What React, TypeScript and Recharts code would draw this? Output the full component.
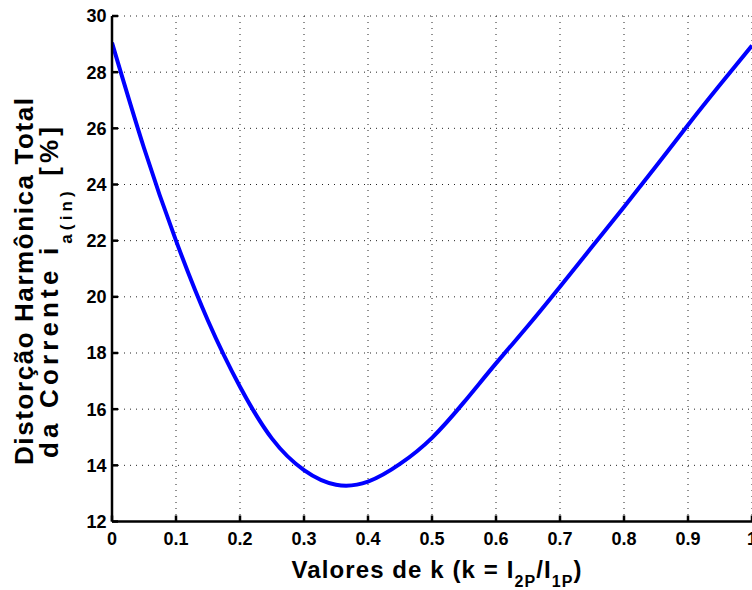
import React from "react";
import { LineChart, Line, XAxis, YAxis, CartesianGrid, Label } from "recharts";

const kValues = [0, 0.05, 0.1, 0.15, 0.2, 0.25, 0.3, 0.35, 0.4, 0.45, 0.5, 0.55, 0.6, 0.65, 0.7, 0.75, 0.8, 0.85, 0.9, 0.95, 1];
const thdValues = [29.05, 25.3, 22.0, 19.15, 16.8, 14.95, 13.83, 13.31, 13.42, 14.05, 14.98, 16.25, 17.63, 18.97, 20.36, 21.78, 23.2, 24.65, 26.12, 27.55, 28.95];

const xTicks = [0, 0.1, 0.2, 0.3, 0.4, 0.5, 0.6, 0.7, 0.8, 0.9, 1];
const xTickLabels = ["0", "0.1", "0.2", "0.3", "0.4", "0.5", "0.6", "0.7", "0.8", "0.9", "1"];
const yTicks = [12, 14, 16, 18, 20, 22, 24, 26, 28, 30];

const data = kValues.map((k, i) => ({ k, thd: thdValues[i] }));

const FONT = "'Liberation Sans', Arial, Helvetica, sans-serif";
const tickStyle = { fill: "#000", fontFamily: FONT, fontWeight: 700, fontSize: 18 };

const XLabel = (props: any) => {
  const vb = props.viewBox || { x: 112, y: 521.5, width: 640, height: 30 };
  const cx = vb.x + vb.width / 2 + 4.5;
  const y = vb.y + 56.5;
  return (
    <text x={cx} y={y} textAnchor="middle" fontFamily={FONT} fontWeight={700} fontSize={24} fill="#000" textLength={290} lengthAdjust="spacing">
      Valores de k (k = I
      <tspan dy={9} fontSize={16}>2P</tspan>
      <tspan dy={-9}>/I</tspan>
      <tspan dy={9} fontSize={16}>1P</tspan>
      <tspan dy={-9}>)</tspan>
    </text>
  );
};

const YLabel = (props: any) => {
  const vb = props.viewBox || { x: 52, y: 16, width: 60, height: 505.5 };
  const x1 = vb.x - 19;
  const y1 = vb.y + vb.height / 2 + 12.75;
  const x2 = vb.x + 6;
  const y2 = vb.y + vb.height / 2 + 23.75;
  return (
    <g>
      <text x={x1} y={y1} transform={`rotate(-90, ${x1}, ${y1})`} textAnchor="middle" fontFamily={FONT} fontWeight={700} fontSize={26} fill="#000" textLength={367} lengthAdjust="spacing">
        Distorção Harmônica Total
      </text>
      <text x={x2} y={y2} transform={`rotate(-90, ${x2}, ${y2})`} textAnchor="middle" fontFamily={FONT} fontWeight={700} fontSize={26} fill="#000" textLength={331} lengthAdjust="spacing">
        da Corrente i
        <tspan dy={14} fontSize={17}>a(in)</tspan>
        <tspan dy={-14}>{" [%]"}</tspan>
      </text>
    </g>
  );
};

export default function App() {
  return (
    <div style={{ position: "absolute", left: 0, top: 0, width: 752, height: 590, overflow: "hidden", background: "#fff" }}>
      <LineChart width={800} height={590} data={data} margin={{ top: 16, right: 48, bottom: 38.5, left: 52 }}>
        <CartesianGrid stroke="#222" strokeWidth={1} strokeDasharray="1 5" />
        <XAxis
          dataKey="k"
          type="number"
          domain={[0, 1]}
          ticks={xTicks}
          tickFormatter={(v: number) => xTickLabels[xTicks.indexOf(v)] ?? String(v)}
          height={30}
          tickSize={-6}
          tickMargin={17}
          tick={tickStyle}
          axisLine={{ stroke: "#000", strokeWidth: 2.5 }}
          tickLine={{ stroke: "#000", strokeWidth: 2.5 }}
          interval={0}
          allowDataOverflow
        >
          <Label content={XLabel} />
        </XAxis>
        <XAxis
          xAxisId="top"
          orientation="top"
          dataKey="k"
          type="number"
          domain={[0, 1]}
          ticks={xTicks}
          height={0}
          tickSize={-6}
          tick={false}
          axisLine={{ stroke: "#000", strokeWidth: 2.5 }}
          tickLine={{ stroke: "#000", strokeWidth: 2.5 }}
          interval={0}
        />
        <YAxis
          type="number"
          domain={[12, 30]}
          ticks={yTicks}
          width={60}
          tickSize={-6}
          tickMargin={11.5}
          tick={tickStyle}
          axisLine={{ stroke: "#000", strokeWidth: 2.5 }}
          tickLine={{ stroke: "#000", strokeWidth: 2.5 }}
          interval={0}
          allowDataOverflow
        >
          <Label content={YLabel} />
        </YAxis>
        <YAxis
          yAxisId="right"
          orientation="right"
          type="number"
          domain={[12, 30]}
          ticks={yTicks}
          width={0}
          tickSize={-6}
          tick={false}
          axisLine={{ stroke: "#000", strokeWidth: 2.5 }}
          tickLine={{ stroke: "#000", strokeWidth: 2.5 }}
          interval={0}
        />
        <Line
          type="natural"
          dataKey="thd"
          stroke="#0000ff"
          strokeWidth={4}
          dot={false}
          activeDot={false}
          isAnimationActive={false}
        />
      </LineChart>
    </div>
  );
}
